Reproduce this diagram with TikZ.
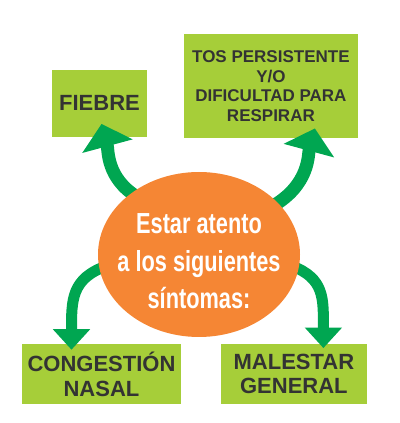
\documentclass[tikz,border=0pt]{standalone}
\usepackage{fontspec}
\setmainfont{Liberation Sans}
\newfontfamily\narrowfont[FakeStretch=0.75]{Liberation Sans}
\usetikzlibrary{
    arrows.meta,
    positioning,
    calc,
    shapes.geometric
}
\definecolor{boxgreen}{HTML}{A6CE39}
\definecolor{arrowgreen}{HTML}{00A651}
\definecolor{sintorange}{HTML}{F58634}
\definecolor{labelgray}{HTML}{333333}
\pgfdeclarelayer{boxes}
\pgfdeclarelayer{links}
\pgfsetlayers{boxes,links,main}
\tikzset{
    % --- Symptom box (light green rectangle) ---
    symptom/.style = {
        rectangle, fill=boxgreen, inner sep=0pt,
        align=center, text=labelgray,
        font=\bfseries\fontsize{22}{24.8}\selectfont
    },
    % --- Central ellipse ---
    hub/.style = {
        ellipse, fill=sintorange, inner sep=0pt,
        minimum width=202pt, minimum height=165pt
    },
    % --- Text inside the ellipse ---
    hub text/.style = {
        align=center, text=white,
        font=\narrowfont\bfseries\fontsize{29}{37.5}\selectfont
    },
    % --- Big curved arrow (top) ---
    big arrow/.style = {
        draw=arrowgreen, line width=13pt,
        -{Triangle[width=51pt, length=23pt]},
        shorten <=-8pt
    },
    % --- Smaller curved arrow (bottom) ---
    small arrow/.style = {
        draw=arrowgreen, line width=11pt,
        -{Triangle[width=36pt, length=20.5pt]},
        shorten <=-8pt
    }
}

\begin{document}
\begin{tikzpicture}[x=1pt, y=1pt]

\useasboundingbox (0,0) rectangle (399,423);

% ---------------------------------------------------------
% Symptom boxes
% ---------------------------------------------------------
\begin{pgfonlayer}{boxes}
\node[symptom, minimum width=94.4pt, minimum height=66.7pt] (Fiebre) at (99.5,319.6) {FIEBRE};
\node[symptom, minimum width=173.7pt, minimum height=104.3pt,
      font=\bfseries\fontsize{17}{19.8}\selectfont] (Tos) at (270.9,336.9)
    {TOS PERSISTENTE\\Y/O\\DIFICULTAD PARA\\RESPIRAR};
\node[symptom, minimum width=158.4pt, minimum height=60.3pt] (Congestion) at (101.5,48.9)
    {CONGESTIÓN\\NASAL};
\node[symptom, minimum width=145.7pt, minimum height=60pt] (Malestar) at (293.9,49)
    {MALESTAR\\GENERAL};
\end{pgfonlayer}

% ---------------------------------------------------------
% Central ellipse
% ---------------------------------------------------------
\node[hub] (Sintomas) at (199,168.5) {};
\node[hub text] (SintomasText) at ([yshift=-7pt]Sintomas.center)
    {Estar atento\\a los siguientes\\síntomas:};

% ---------------------------------------------------------
% Curved arrows
% ---------------------------------------------------------
\begin{pgfonlayer}{links}
\draw[big arrow] (Sintomas.138) .. controls +(-25,15) and +(7,-26) .. ([shift={(2,13)}]Fiebre.south);
\draw[big arrow] (Sintomas.33) .. controls +(32,18) and +(-7,-26) .. ([shift={(44,10)}]Tos.south);
\draw[small arrow] (Sintomas.188) .. controls +(-28,-10) and +(0,50) .. ([shift={(-30,-6)}]Congestion.north);
\draw[small arrow] (Sintomas.-8) .. controls +(26,-10) and +(0,50) .. ([shift={(29.5,-4.3)}]Malestar.north);
\end{pgfonlayer}

\end{tikzpicture}
\end{document}
